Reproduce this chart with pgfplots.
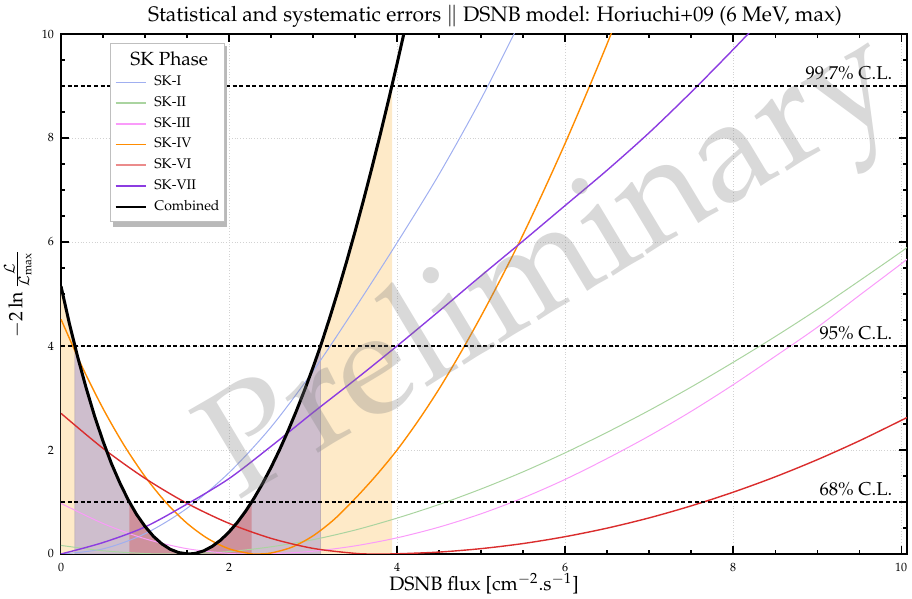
\documentclass[border=0pt]{standalone}
\usepackage[T1]{fontenc}
\usepackage{mathpazo}
\usepackage{pgfplots}
\pgfplotsset{compat=1.18}

\definecolor{cSKI}{RGB}{160,175,240}
\definecolor{cSKII}{RGB}{170,212,160}
\definecolor{cSKIII}{RGB}{250,155,250}
\definecolor{cSKIV}{RGB}{255,140,0}
\definecolor{cSKVI}{RGB}{218,45,45}
\definecolor{cSKVII}{RGB}{140,60,225}
\definecolor{fillA}{RGB}{254,234,200}
\definecolor{fillB}{RGB}{206,190,205}
\definecolor{fillC}{RGB}{206,145,156}

\begin{document}
\begin{tikzpicture}
\useasboundingbox (0,0) rectangle (456pt,299.5pt);
\begin{axis}[
  at={(30.5pt,22.5pt)}, anchor=south west,
  scale only axis, width=423pt, height=260pt,
  xmin=0, xmax=10.07, ymin=0, ymax=10,
  xtick={0,2,4,6,8,10}, ytick={0,2,4,6,8,10},
  minor x tick num=3, minor y tick num=3,
  tick align=inside, major tick length=4pt, minor tick length=2pt,
  tick style={black, line width=0.6pt},
  axis line style={line width=0.8pt},
  grid=major, major grid style={gray!35, densely dotted, line width=0.4pt},
  tick label style={font=\fontsize{6}{7}\selectfont},
  xticklabel style={yshift=-1pt},
  xlabel={DSNB flux [cm$^{-2}$.s$^{-1}$]},
  xlabel style={font=\fontsize{9.7}{11}\selectfont, at={(axis description cs:0.5,0)}, anchor=center, yshift=-15pt},
  ylabel={$-2\ln\frac{\mathcal{L}}{\mathcal{L}_{\max}}$},
  ylabel style={font=\fontsize{9.7}{11}\selectfont, at={(axis description cs:-0.051,0.5)}, anchor=center},
  legend style={at={(0.058,0.983)}, anchor=north west, font=\fontsize{7}{8}\selectfont,
    draw=gray!50, fill=white, line width=0.5pt,
    inner xsep=0.5pt, inner ysep=2pt, row sep=0pt, column sep=2pt},
  legend cell align=left,
  legend image code/.code={\draw[#1] (2pt,0pt) -- (17pt,0pt);},
]

% confidence-region fills under the combined curve
\addplot[fill=fillA, draw=none, forget plot] coordinates {
(0,0) (0,5.15) (0.1,4.43) (0.2,3.78) (0.3,3.19) (0.4,2.65) (0.5,2.17) (0.6,1.74) (0.7,1.37) (0.8,1.04) (0.9,0.76) (1.0,0.53) (1.1,0.34) (1.2,0.195) (1.3,0.091) (1.4,0.027) (1.52,0) (1.6,0.012) (1.7,0.061) (1.8,0.147) (1.9,0.267) (2.0,0.422) (2.1,0.609) (2.2,0.828) (2.3,1.078) (2.4,1.357) (2.5,1.664) (2.6,1.998) (2.7,2.358) (2.8,2.745) (2.9,3.155) (3.0,3.589) (3.1,4.049) (3.2,4.549) (3.3,5.074) (3.4,5.625) (3.5,6.20) (3.6,6.799) (3.7,7.422) (3.8,8.068) (3.9,8.737) (3.94,9.0) (3.94,0)} -- cycle;
\addplot[fill=fillB, draw=fillB!85!black, line width=0.3pt, forget plot] coordinates {
(0.165,0) (0.165,4.0) (0.2,3.78) (0.3,3.19) (0.4,2.65) (0.5,2.17) (0.6,1.74) (0.7,1.37) (0.8,1.04) (0.9,0.76) (1.0,0.53) (1.1,0.34) (1.2,0.195) (1.3,0.091) (1.4,0.027) (1.52,0) (1.6,0.012) (1.7,0.061) (1.8,0.147) (1.9,0.267) (2.0,0.422) (2.1,0.609) (2.2,0.828) (2.3,1.078) (2.4,1.357) (2.5,1.664) (2.6,1.998) (2.7,2.358) (2.8,2.745) (2.9,3.155) (3.0,3.589) (3.09,4.0) (3.09,0)} -- cycle;
\addplot[fill=fillC, draw=none, forget plot] coordinates {
(0.813,0) (0.813,1.0) (0.9,0.76) (1.0,0.53) (1.1,0.34) (1.2,0.195) (1.3,0.091) (1.4,0.027) (1.52,0) (1.6,0.012) (1.7,0.061) (1.8,0.147) (1.9,0.267) (2.0,0.422) (2.1,0.609) (2.2,0.828) (2.27,1.0) (2.27,0)} -- cycle;

% SK-I
\addplot[cSKI, line width=0.5pt, smooth, forget plot] coordinates {
(0,0) (0.5,0.098) (1,0.39) (1.5,0.879) (2,1.563) (2.5,2.44) (3,3.516) (3.5,4.726) (4,5.985) (4.5,7.30) (5,8.75) (5.5,10.35)};
% SK-II
\addplot[cSKII, line width=0.5pt, smooth, forget plot] coordinates {
(0,0.165) (0.5,0.0625) (1.0,0.0088) (1.3,0) (1.5,0.0039) (2.0,0.047) (2.5,0.138) (3.0,0.275) (3.5,0.46) (4.0,0.69) (4.5,0.952) (5.0,1.25) (5.5,1.58) (6.0,1.945) (6.5,2.34) (7.0,2.76) (7.5,3.21) (8.0,3.685) (8.5,4.18) (9.0,4.70) (9.5,5.25) (10.0,5.81) (10.07,5.9)};
% SK-III
\addplot[cSKIII, line width=0.5pt, smooth, forget plot] coordinates {
(0,0.974) (0.5,0.587) (1.0,0.293) (1.5,0.102) (2.0,0.012) (2.3,0) (2.5,0.0044) (3.0,0.053) (3.5,0.156) (4.0,0.311) (4.5,0.517) (5.0,0.773) (5.5,1.079) (6.0,1.434) (6.5,1.836) (7.0,2.269) (7.5,2.742) (8.0,3.254) (8.5,3.80) (9.0,4.357) (9.5,4.969) (10.0,5.579) (10.07,5.67)};
% SK-IV
\addplot[cSKIV, line width=0.7pt, smooth, forget plot] coordinates {
(0,4.515) (0.25,3.605) (0.5,2.798) (0.75,2.093) (1.0,1.490) (1.25,0.989) (1.5,0.591) (1.75,0.294) (2.0,0.100) (2.25,0.008) (2.35,0) (2.5,0.019) (2.75,0.132) (3.0,0.349) (3.25,0.663) (3.5,1.064) (3.75,1.508) (4.0,1.999) (4.25,2.558) (4.5,3.173) (4.75,3.851) (5.0,4.574) (5.25,5.339) (5.5,6.142) (5.75,7.0) (6.0,7.895) (6.25,8.836) (6.5,9.81) (6.75,10.83)};
% SK-VI
\addplot[cSKVI, line width=0.7pt, smooth, forget plot] coordinates {
(0,2.705) (0.5,2.032) (1.0,1.455) (1.5,0.974) (2.0,0.589) (2.5,0.301) (3.0,0.108) (3.5,0.012) (3.75,0) (4.0,0.004) (4.5,0.037) (5.0,0.103) (5.5,0.201) (6.0,0.333) (6.5,0.497) (7.0,0.694) (7.5,0.925) (8.0,1.188) (8.5,1.483) (9.0,1.812) (9.5,2.174) (10.0,2.568) (10.07,2.626)};
% SK-VII
\addplot[cSKVII, line width=0.7pt, smooth, forget plot] coordinates {
(0,0) (0.5,0.22) (1,0.52) (1.5,0.96) (2,1.45) (2.5,2.07) (3,2.72) (3.5,3.35) (4,4.0) (4.5,4.67) (5,5.35) (5.5,6.02) (6,6.7) (6.5,7.38) (7,8.1) (7.5,8.88) (8,9.7) (8.5,10.55)};
% Combined
\addplot[black, line width=1.5pt, forget plot] coordinates {
(0,5.15) (0.1,4.43) (0.2,3.78) (0.3,3.19) (0.4,2.65) (0.5,2.17) (0.6,1.74) (0.7,1.37) (0.8,1.04) (0.9,0.76) (1.0,0.53) (1.1,0.34) (1.2,0.195) (1.3,0.091) (1.4,0.027) (1.52,0) (1.6,0.012) (1.7,0.061) (1.8,0.147) (1.9,0.267) (2.0,0.422) (2.1,0.609) (2.2,0.828) (2.3,1.078) (2.4,1.357) (2.5,1.664) (2.6,1.998) (2.7,2.358) (2.8,2.745) (2.9,3.155) (3.0,3.589) (3.1,4.049) (3.2,4.549) (3.3,5.074) (3.4,5.625) (3.5,6.20) (3.6,6.799) (3.7,7.422) (3.8,8.068) (3.9,8.737) (4.0,9.428) (4.1,10.14)};

% legend entries
\addlegendimage{empty legend}
\addlegendentry{\rlap{\hspace{-12pt}\fontsize{9.5}{10}\selectfont SK Phase}\rule[-3pt]{0pt}{9pt}}
\addlegendimage{draw=cSKI, line width=0.8pt}
\addlegendentry{SK-I}
\addlegendimage{draw=cSKII, line width=0.8pt}
\addlegendentry{SK-II}
\addlegendimage{draw=cSKIII, line width=0.8pt}
\addlegendentry{SK-III}
\addlegendimage{draw=cSKIV, line width=0.8pt}
\addlegendentry{SK-IV}
\addlegendimage{draw=cSKVI!55, line width=0.8pt}
\addlegendentry{SK-VI}
\addlegendimage{draw=cSKVII, line width=0.8pt}
\addlegendentry{SK-VII}
\addlegendimage{draw=black, line width=0.8pt}
\addlegendentry{Combined\hspace{-2.5pt}}

% C.L. lines
\addplot[black, line width=0.7pt, dash pattern=on 2pt off 1.3pt, forget plot] coordinates {(0,1) (10.07,1)};
\addplot[black, line width=0.7pt, dash pattern=on 2pt off 1.3pt, forget plot] coordinates {(0,4) (10.07,4)};
\addplot[black, line width=0.7pt, dash pattern=on 2pt off 1.3pt, forget plot] coordinates {(0,9) (10.07,9)};
\node[anchor=base east, inner sep=0pt, font=\fontsize{9.3}{11}\selectfont, yshift=3pt] at (axis cs:9.9,1) {68\% C.L.};
\node[anchor=base east, inner sep=0pt, font=\fontsize{9.3}{11}\selectfont, yshift=3pt] at (axis cs:9.9,4) {95\% C.L.};
\node[anchor=base east, inner sep=0pt, font=\fontsize{9.3}{11}\selectfont, yshift=3pt] at (axis cs:9.9,9) {99.7\% C.L.};

% watermark
\node[rotate=31, text=gray, opacity=0.3, font=\fontsize{74}{74}\selectfont] at (axis cs:5.88,5.42) {Preliminary};

% legend shadow
\fill[gray!55] (axis cs:0.62,9.77) rectangle (axis cs:1.98,6.29);
\end{axis}
\node[anchor=base, font=\fontsize{10.5}{12}\selectfont] at (30.5pt+0.513*423pt, 282.5pt+6pt) {Statistical and systematic errors $\|$ DSNB model: Horiuchi+09 (6 MeV, max)};
\end{tikzpicture}
\end{document}
